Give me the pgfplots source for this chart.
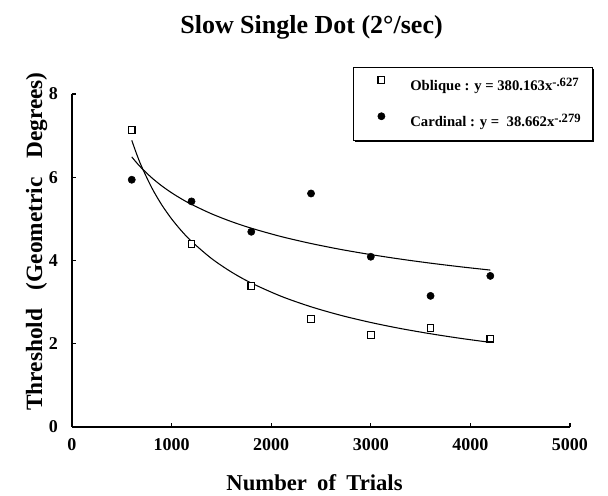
\documentclass[border=0pt]{standalone}
\usepackage{fontspec}
\setmainfont{Liberation Serif}
\usepackage{pgfplots}
\pgfplotsset{compat=1.18}
\usetikzlibrary{shadows}

\begin{document}
\begin{tikzpicture}
\path[use as bounding box] (-54pt,-51.75pt) rectangle (402pt,320.25pt);
\begin{axis}[
 scale only axis, width=373.5pt, height=249.75pt,
 at={(0,0)}, anchor=south west,
 xmin=0, xmax=5000, ymin=0, ymax=8,
 xtick={0,1000,...,5000}, ytick={0,2,...,8},
 axis lines*=left, axis line style={-, line width=1.2pt},
 tick align=inside, major tick length=3pt, tick style={black, line width=0.8pt},
 scaled x ticks=false,
 /pgf/number format/1000 sep={},
 /pgf/number format/assume math mode=true,
 tick label style={font=\fontsize{13.5}{14}\selectfont\bfseries},
 xticklabel style={yshift=-5pt}, yticklabel style={xshift=-7pt},
 clip=false,
 legend style={at={(0.564,1.0826)}, anchor=north west, draw=black, fill=white,
   font=\fontsize{11}{12}\selectfont\bfseries,
   drop shadow={shadow xshift=1.3pt, shadow yshift=-1.3pt, opacity=1, fill=black},
   inner xsep=7pt, inner ysep=6.5pt, row sep=12pt,
   /tikz/every odd column/.append style={column sep=17pt}},
 legend cell align=left,
 legend image code/.code={\path (0pt,0pt); \draw[#1] plot coordinates {(14pt,4pt)};},
]
% oblique fit: y = 380.163 x^-.627
\addplot[forget plot, smooth, black, line width=0.8pt] coordinates {
 (600,6.887) (650,6.551) (700,6.253) (800,5.751) (900,5.341) (1000,5.000)
 (1100,4.710) (1200,4.460) (1400,4.049) (1600,3.724) (1800,3.459) (2100,3.140)
 (2400,2.888) (2700,2.682) (3000,2.511) (3300,2.365) (3600,2.240) (3900,2.130) (4200,2.033)};
% cardinal fit: y = 38.662 x^-.279
\addplot[forget plot, smooth, black, line width=0.8pt] coordinates {
 (600,6.489) (650,6.346) (700,6.216) (800,5.989) (900,5.795) (1000,5.627)
 (1100,5.479) (1200,5.348) (1400,5.123) (1600,4.935) (1800,4.776) (2100,4.575)
 (2400,4.408) (2700,4.265) (3000,4.142) (3300,4.033) (3600,3.936) (3900,3.849) (4200,3.770)};
\addplot[only marks, mark=square*, mark size=2.5pt, mark options={fill=white, draw=black, line width=0.9pt}] coordinates {
 (600,7.13) (1200,4.40) (1800,3.39) (2400,2.60) (3000,2.21) (3600,2.38) (4200,2.12)};
\addlegendentry{Oblique : y = 380.163x\raisebox{0.65ex}{\fontsize{9.5}{10}\selectfont -.627}}
\addplot[only marks, mark=*, mark size=2.7pt, mark options={fill=black, draw=black}] coordinates {
 (600,5.94) (1200,5.42) (1800,4.69) (2400,5.61) (3000,4.09) (3600,3.15) (4200,3.63)};
\addlegendentry{Cardinal : y =\ \ 38.662x\raisebox{0.65ex}{\fontsize{9.5}{10}\selectfont -.279}}
\node[anchor=base, font=\fontsize{19.5}{20}\selectfont\bfseries] at (rel axis cs:0.481,1.183) {Slow Single Dot (2°/sec)};
\node[rotate=90, anchor=base, font=\fontsize{17.5}{18}\selectfont\bfseries] at (rel axis cs:-0.060,0.557) {Threshold\hspace{0.8em}(Geometric\hspace{0.8em}Degrees)};
\node[anchor=base, font=\fontsize{17}{18}\selectfont\bfseries] at (rel axis cs:0.487,-0.192) {Number\hspace{0.45em}of\hspace{0.45em}Trials};
\end{axis}
\end{tikzpicture}
\end{document}
